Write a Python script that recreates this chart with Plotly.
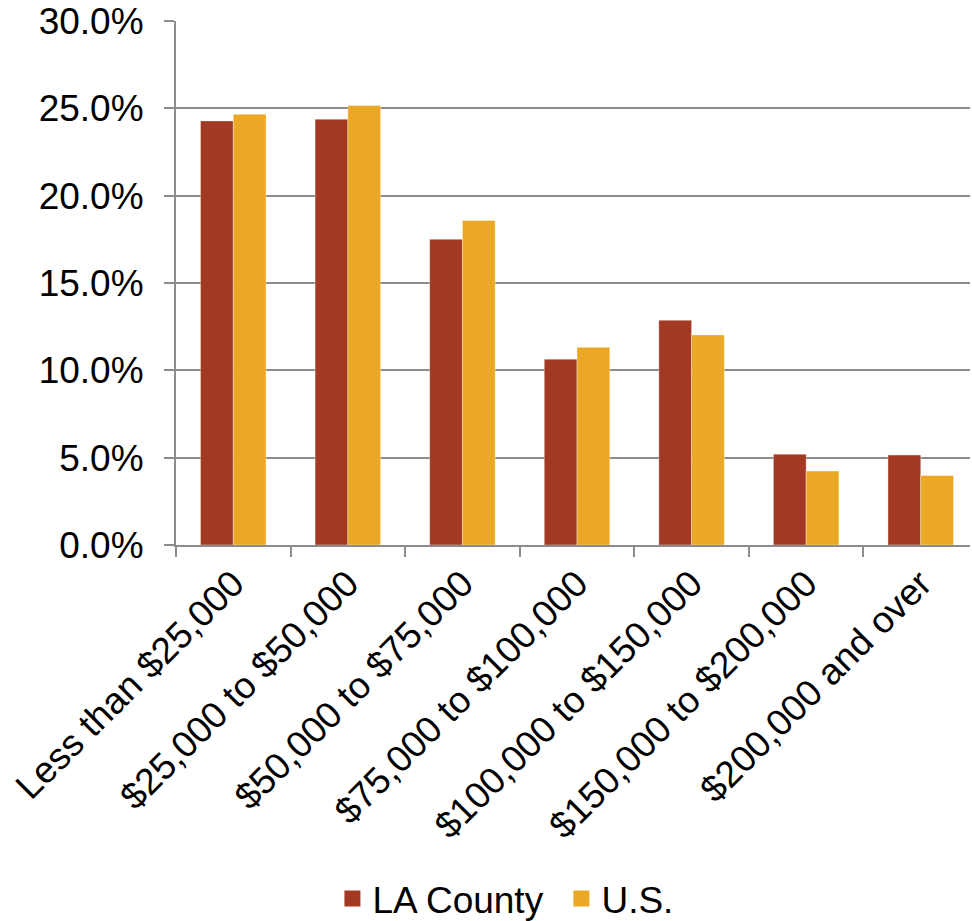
import plotly.graph_objects as go

categories = ["Less than $25,000", "$25,000 to $50,000", "$50,000 to $75,000",
              "$75,000 to $100,000", "$100,000 to $150,000", "$150,000 to $200,000",
              "$200,000 and over"]
la_county = [24.28, 24.38, 17.50, 10.64, 12.87, 5.20, 5.15]
us = [24.66, 25.16, 18.58, 11.32, 12.03, 4.23, 3.98]

LA_COLOR = "#A33823"
US_COLOR = "#EAA824"
GRID = "#8C8C8C"
FONT = "Liberation Sans, Arial, sans-serif"
FS = 37

fig = go.Figure()
fig.add_trace(go.Bar(x=categories, y=la_county, name="LA County", marker_color=LA_COLOR,
                     marker_line=dict(width=0.6, color="rgba(255,255,255,0.6)"), showlegend=False))
fig.add_trace(go.Bar(x=categories, y=us, name="U.S.", marker_color=US_COLOR,
                     marker_line=dict(width=0.6, color="rgba(255,255,255,0.6)"), showlegend=False))
# legend entries
fig.add_trace(go.Scatter(x=[None], y=[None], mode="markers", name="LA County",
                         marker=dict(symbol="square", size=19, color=LA_COLOR)))
fig.add_trace(go.Scatter(x=[None], y=[None], mode="markers", name="U.S.",
                         marker=dict(symbol="square", size=19, color=US_COLOR)))

fig.update_layout(
    width=972, height=921,
    margin=dict(l=176, r=2, t=21, b=376),
    paper_bgcolor="white", plot_bgcolor="white",
    font=dict(family=FONT, size=FS, color="black"),
    barmode="group", bargap=0.428, bargroupgap=0,
    showlegend=True,
    legend=dict(orientation="h", x=0.197, xanchor="left", xref="paper",
                y=0.024, yanchor="middle", yref="container",
                font=dict(size=FS), itemsizing="trace", tracegroupgap=0,
                entrywidth=184, entrywidthmode="pixels",
                bgcolor="rgba(0,0,0,0)"),
)
fig.update_xaxes(
    type="category", range=[-0.5, 6.43], tickangle=-45, automargin=False,
    showline=True, linecolor=GRID, linewidth=2,
    ticks="outside", tickson="boundaries", ticklen=10, tickcolor=GRID, tickwidth=2,
    showgrid=False, tickfont=dict(size=FS), ticklabeloverflow="allow",
)
fig.update_yaxes(
    range=[0, 30], dtick=5, tickformat=".1f", ticksuffix="%", automargin=False,
    showline=True, linecolor=GRID, linewidth=2,
    ticks="outside", ticklen=10, tickcolor=GRID, tickwidth=2,
    showgrid=True, gridcolor=GRID, gridwidth=2, zeroline=False,
    tickfont=dict(size=FS), ticklabelstandoff=13, ticklabeloverflow="allow",
)

fig.write_html("out.html", config={"displayModeBar": False},
               post_script="document.body.style.margin='0px';")
